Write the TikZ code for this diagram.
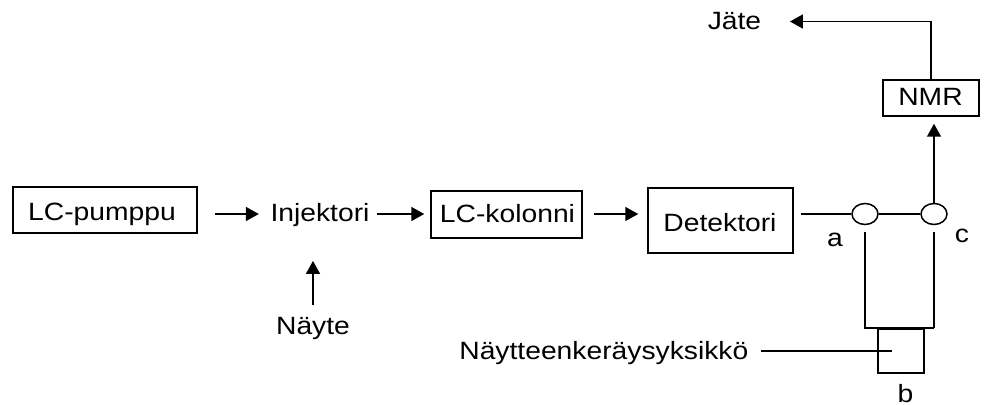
\documentclass[tikz,border=0pt]{standalone}
\usepackage{fontspec}
\setmainfont{Liberation Sans}[FakeStretch=1.13]
\usetikzlibrary{arrows.meta,calc,shapes.geometric}
\begin{document}
\begin{tikzpicture}[x=0.5pt,y=-0.5pt,line width=0.75pt,
  font=\fontsize{12.5}{15}\selectfont,
  unit/.style={draw,inner sep=0pt,line width=0.75pt},
  word/.style={inner sep=0pt,anchor=base},
  valve/.style={draw,ellipse,inner sep=0pt,minimum width=13pt,minimum height=10.5pt,line width=0.75pt},
  flow/.style={-{Triangle[length=6.5pt,width=7pt]}}]
  % canvas
  \fill[white] (0,0) rectangle (984,405);
  \path[use as bounding box] (0,0) rectangle (984,405);

  % flow line height
  \coordinate (row) at (0,214);

  % units on the main line
  \node[unit,minimum width=92pt,minimum height=23pt] (pump) at (105,210) {};
  \node[word] at (102,221) {LC-pumppu};
  \node[word] (inj) at (320,222) {Injektori};
  \node[unit,minimum width=75.5pt,minimum height=23.5pt] (col) at (506.5,214.5) {};
  \node[word] at (507.5,222.5) {LC-kolonni};
  \node[unit,minimum width=72.5pt,minimum height=32.5pt] (det) at (720.5,220.5) {};
  \node[word] at (720,231.5) {Detektori};
  \node[valve] (va) at (865,214) {};
  \node[valve] (vc) at (934,214) {};
  \node[word] at (835,247) {a};
  \node[word] at (962,243) {c};

  % NMR and waste
  \node[unit,minimum width=48pt,minimum height=18pt] (nmr) at (931,98) {};
  \node[word] at (930.5,106) {NMR};
  \node[word] (waste) at (734.5,30) {Jäte};

  % sample inlet
  \node[word] (sample) at (313,335) {Näyte};

  % collection unit
  \node[unit,minimum width=23pt,minimum height=22pt] (coll) at (901,351) {};
  \node[word,anchor=base east] (colltext) at (749,359) {Näytteenkeräysyksikkö};
  \coordinate (collpt) at (892,351);
  \node[word] at (905.5,402) {b};

  % connectors
  \draw[flow,shorten <=8.5pt,shorten >=5.5pt] (pump.east |- row) -- (inj.west |- row);
  \draw[flow,shorten <=3.5pt,shorten >=3pt] (inj.east |- row) -- (col.west |- row);
  \draw[flow,shorten <=5.5pt,shorten >=4.5pt] (col.east |- row) -- (det.west |- row);
  \draw[shorten <=3.5pt] (det.east |- row) -- (va.west);
  \draw (va.east) -- (vc.west);
  \draw[flow,shorten >=3.5pt] (vc.north) -- (vc.north |- nmr.south);
  \draw[flow,shorten >=14pt] (nmr.north) |- (waste.east);
  \draw[flow,shorten <=6pt,shorten >=16.5pt] (sample.north) -- (sample.north |- inj.south);
  \draw[shorten <=3.5pt] (va.south) -- (va.south |- coll.north) -- (vc.south |- coll.north);
  \draw[shorten >=3.5pt] (vc.south |- coll.north) -- (vc.south);
  \draw[shorten <=6pt] (colltext.east |- collpt) -- (collpt);
\end{tikzpicture}
\end{document}
